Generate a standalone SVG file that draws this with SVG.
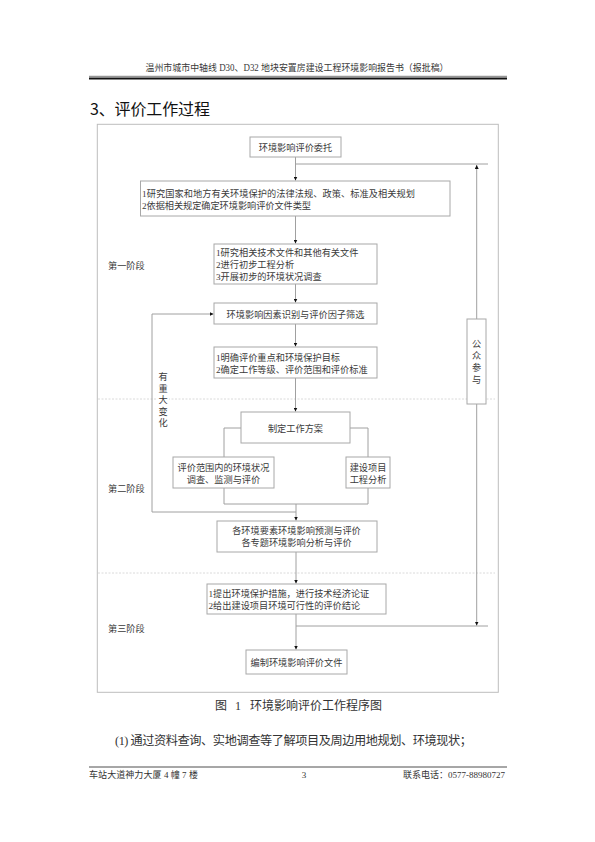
<svg xmlns="http://www.w3.org/2000/svg" width="595" height="842" viewBox="0 0 595 842">
<defs>
<style>
.t{font-family:"Liberation Serif","Noto Sans CJK SC",serif;font-size:9.2px;fill:#3a3a3a;}
.c{text-anchor:middle;}
.box{fill:#fff;stroke:#a8a8a8;stroke-width:1;}
.ln{fill:none;stroke:#a0a0a0;stroke-width:1;}
.dash{stroke:#d0d0d0;stroke-width:0.8;stroke-dasharray:2 1.5;}
.p{font-family:"Liberation Serif","Noto Sans CJK SC",serif;fill:#333;}
</style>
<marker id="ah" viewBox="0 0 6 6" refX="6" refY="3" markerWidth="4" markerHeight="4" orient="auto" markerUnits="userSpaceOnUse">
<path d="M0,0 L6,3 L0,6 Z" fill="#111"/>
</marker>
</defs>
<rect width="595" height="842" fill="#fff"/>
<!-- header -->
<text class="t c" x="297" y="70.5" style="font-size:9.5px" textLength="303" lengthAdjust="spacingAndGlyphs">温州市城市中轴线 D30、D32 地块安置房建设工程环境影响报告书（报批稿）</text>
<line x1="89" y1="76.3" x2="507" y2="76.3" stroke="#222" stroke-width="0.6"/>
<line x1="89" y1="78.6" x2="507" y2="78.6" stroke="#111" stroke-width="2"/>
<text x="90" y="115" style="font-family:'Noto Sans CJK SC','Liberation Sans',sans-serif;font-size:16px;fill:#111" textLength="120">3、评价工作过程</text>
<!-- frame -->
<rect x="97.3" y="124.3" width="401" height="568" fill="none" stroke="#bdbdbd" stroke-width="1"/>
<line class="dash" x1="98" y1="399" x2="495" y2="399"/>
<line class="dash" x1="98" y1="573" x2="495" y2="573"/>
<!-- connectors -->
<g id="connectors">
<line class="ln" x1="295.5" y1="157" x2="295.5" y2="180.5" marker-end="url(#ah)"/>
<polyline class="ln" points="295.5,164 488,164"/>
<line class="ln" x1="295.5" y1="216" x2="295.5" y2="243.5" marker-end="url(#ah)"/>
<line class="ln" x1="295.5" y1="284" x2="295.5" y2="302.5" marker-end="url(#ah)"/>
<line class="ln" x1="295.5" y1="324" x2="295.5" y2="346.5" marker-end="url(#ah)"/>
<line class="ln" x1="295.5" y1="378" x2="295.5" y2="411.5" marker-end="url(#ah)"/>
<polyline class="ln" points="241,428 224,428 224,457"/>
<polyline class="ln" points="350,428 368,428 368,457"/>
<polyline class="ln" points="224,488 224,504 368,504 368,488"/>
<line class="ln" x1="296" y1="504" x2="296" y2="520.5" marker-end="url(#ah)"/>
<polyline class="ln" points="296,512 152,512 152,314 213.5,314" marker-end="url(#ah)"/>
<line class="ln" x1="296" y1="552" x2="296" y2="583.5" marker-end="url(#ah)"/>
<line class="ln" x1="296" y1="614" x2="296" y2="649.5" marker-end="url(#ah)"/>
<polyline class="ln" points="296,626 488,626"/>
<line class="ln" x1="476.7" y1="319" x2="476.7" y2="165" marker-end="url(#ah)"/>
<line class="ln" x1="476.7" y1="404" x2="476.7" y2="625.5" marker-end="url(#ah)"/>
</g>
<!-- nodes -->
<g id="n1"><rect class="box" x="250" y="137" width="91" height="20"/><text class="t c" x="295.5" y="150.5">环境影响评价委托</text></g>
<g id="n2"><rect class="box" x="140.5" y="181" width="309.5" height="35"/>
<text class="t" x="142" y="197" textLength="273">1研究国家和地方有关环境保护的法律法规、政策、标准及相关规划</text>
<text class="t" x="142" y="209" textLength="169">2依据相关规定确定环境影响评价文件类型</text></g>
<g id="n3"><rect class="box" x="214" y="244" width="163" height="40"/>
<text class="t" x="216" y="255.5">1研究相关技术文件和其他有关文件</text>
<text class="t" x="216" y="268">2进行初步工程分析</text>
<text class="t" x="216" y="280.3">3开展初步的环境状况调查</text></g>
<g id="n4"><rect class="box" x="214" y="303" width="163" height="21"/><text class="t c" x="295.5" y="317.5">环境影响因素识别与评价因子筛选</text></g>
<g id="n5"><rect class="box" x="214" y="347" width="163" height="31"/>
<text class="t" x="216" y="360.5">1明确评价重点和环境保护目标</text>
<text class="t" x="216" y="372.5">2确定工作等级、评价范围和评价标准</text></g>
<g id="n6"><rect class="box" x="241" y="412" width="109" height="31"/><text class="t c" x="295.5" y="431.5">制定工作方案</text></g>
<g id="n7"><rect class="box" x="173" y="457" width="101" height="31"/>
<text class="t c" x="223.5" y="470.5">评价范围内的环境状况</text>
<text class="t c" x="223.5" y="482.5">调查、监测与评价</text></g>
<g id="n8"><rect class="box" x="346" y="457" width="44" height="31"/>
<text class="t c" x="368" y="470.5">建设项目</text>
<text class="t c" x="368" y="482.5">工程分析</text></g>
<g id="n9"><rect class="box" x="217" y="521" width="160" height="31"/>
<text class="t c" x="296.5" y="533.5">各环境要素环境影响预测与评价</text>
<text class="t c" x="296.5" y="545.5">各专题环境影响分析与评价</text></g>
<g id="n10"><rect class="box" x="207" y="584" width="179" height="30"/>
<text class="t" x="208.5" y="596.5">1提出环境保护措施，进行技术经济论证</text>
<text class="t" x="208.5" y="608.5">2给出建设项目环境可行性的评价结论</text></g>
<g id="n11"><rect class="box" x="246" y="650" width="101" height="24"/><text class="t c" x="296.5" y="665.5">编制环境影响评价文件</text></g>
<g id="n12"><rect class="box" x="467" y="319" width="19" height="85"/>
<text class="t c" x="476.7" y="346.5">公</text><text class="t c" x="476.7" y="358.5">众</text><text class="t c" x="476.7" y="370.5">参</text><text class="t c" x="476.7" y="382.5">与</text></g>
<!-- labels -->
<g id="labels">
<rect x="157" y="368" width="12" height="60" fill="#fff"/>
<text class="t c" x="163" y="380">有</text><text class="t c" x="163" y="391.5">重</text><text class="t c" x="163" y="403">大</text><text class="t c" x="163" y="414.5">变</text><text class="t c" x="163" y="426">化</text>
<text class="t" x="108" y="268.5">第一阶段</text>
<text class="t" x="108" y="491.5">第二阶段</text>
<text class="t" x="108" y="631.5">第三阶段</text>
</g>
<!-- caption & body -->
<text class="p" x="215" y="709.5" style="font-size:12px">图</text>
<text class="p" x="235" y="709.5" style="font-size:12px">1</text>
<text class="p" x="250" y="709.5" style="font-size:12px" textLength="132">环境影响评价工作程序图</text>
<text class="p" x="115" y="744.5" style="font-size:12.2px" textLength="357">(1) 通过资料查询、实地调查等了解项目及周边用地规划、环境现状；</text>
<line x1="89" y1="767" x2="507" y2="767" stroke="#222" stroke-width="0.8"/>
<text class="p" x="89" y="777.5" style="font-size:9px" textLength="109">车站大道神力大厦 4 幢 7 楼</text>
<text class="p" x="304" y="777.5" text-anchor="middle" style="font-size:9px">3</text>
<text class="p" x="505" y="777.5" text-anchor="end" style="font-size:9px">联系电话：0577-88980727</text>
</svg>
